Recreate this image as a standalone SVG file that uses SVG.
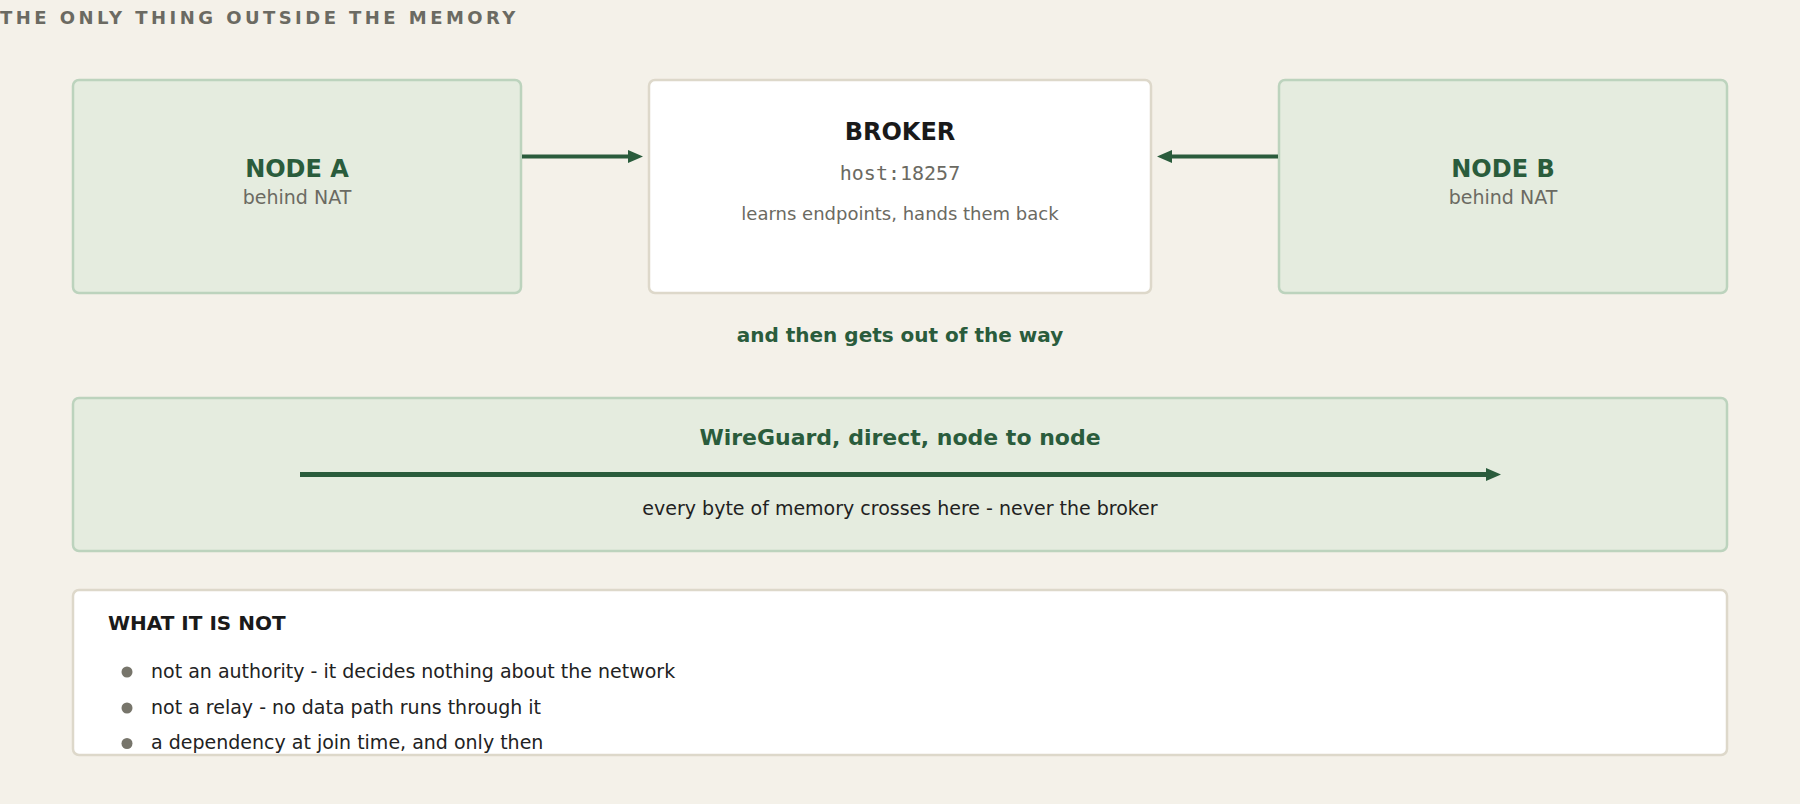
<svg xmlns="http://www.w3.org/2000/svg" width="1800" height="804" viewBox="0 0 1800 804">
<defs>
<style>
text{font-family:"DejaVu Sans","Liberation Sans",sans-serif}
.title{font-size:18px;font-weight:bold;fill:#6b6a62;letter-spacing:3.45px}
.node{fill:#e5ecdf;stroke:#bcd3bd;stroke-width:2.5}
.card{fill:#ffffff;stroke:#ddd8ca;stroke-width:2.5}
.nname{font-size:24px;font-weight:bold;fill:#2a5c3c;text-anchor:middle}
.sub{font-size:18px;fill:#6b6a62;text-anchor:middle}
.nat{font-size:19px}
.bname{font-size:24px;font-weight:bold;fill:#1a1a1a;text-anchor:middle}
.mono{font-family:"DejaVu Sans Mono","Liberation Mono",monospace;font-size:20px;fill:#6b6a62;text-anchor:middle}
.green{font-weight:bold;fill:#2a5c3c;text-anchor:middle}
.dark{fill:#222222}
.conn{stroke:#2a5c3c;fill:none}
.bullet{fill:#77756b}
</style>
<marker id="ah" markerUnits="userSpaceOnUse" markerWidth="15" markerHeight="13" refX="2" refY="6.5" orient="auto">
<path d="M0,0 L15,6.5 L0,13 Z" fill="#2a5c3c"/>
</marker>
</defs>
<rect width="1800" height="804" fill="#f4f1e9"/>
<text class="title" x="0" y="24">THE ONLY THING OUTSIDE THE MEMORY</text>

<g id="node-a">
<rect class="node" x="73" y="80" width="448" height="213" rx="6"/>
<text class="nname" x="297" y="177">NODE A</text>
<text class="sub nat" x="297" y="204">behind NAT</text>
</g>

<g id="broker">
<rect class="card" x="649" y="80" width="502" height="213" rx="6"/>
<text class="bname" x="900" y="140">BROKER</text>
<text class="mono" x="900" y="180">host:18257</text>
<text class="sub" x="900" y="220">learns endpoints, hands them back</text>
</g>

<g id="node-b">
<rect class="node" x="1279" y="80" width="448" height="213" rx="6"/>
<text class="nname" x="1503" y="177">NODE B</text>
<text class="sub nat" x="1503" y="204">behind NAT</text>
</g>

<text class="green" x="900" y="342" font-size="20">and then gets out of the way</text>

<g id="wireguard">
<rect class="node" x="73" y="398" width="1654" height="153" rx="6"/>
<text class="green" x="900" y="445" font-size="22">WireGuard, direct, node to node</text>
<text class="dark" x="900" y="515" font-size="19" text-anchor="middle">every byte of memory crosses here - never the broker</text>
</g>

<g id="connectors">
<line class="conn" x1="522" y1="156.5" x2="630" y2="156.5" stroke-width="4" marker-end="url(#ah)"/>
<line class="conn" x1="1278" y1="156.5" x2="1170" y2="156.5" stroke-width="4" marker-end="url(#ah)"/>
<line class="conn" x1="300" y1="474.5" x2="1488" y2="474.5" stroke-width="5" marker-end="url(#ah)"/>
</g>

<g id="not-panel">
<rect class="card" x="73" y="590" width="1654" height="165" rx="6"/>
<text x="108" y="630" font-size="20" font-weight="bold" fill="#1a1a1a">WHAT IT IS NOT</text>
<circle class="bullet" cx="127" cy="672" r="5.5"/>
<text class="dark" x="151" y="677.5" font-size="19">not an authority - it decides nothing about the network</text>
<circle class="bullet" cx="127" cy="708" r="5.5"/>
<text class="dark" x="151" y="713.5" font-size="19">not a relay - no data path runs through it</text>
<circle class="bullet" cx="127" cy="743.5" r="5.5"/>
<text class="dark" x="151" y="749" font-size="19">a dependency at join time, and only then</text>
</g>
</svg>
